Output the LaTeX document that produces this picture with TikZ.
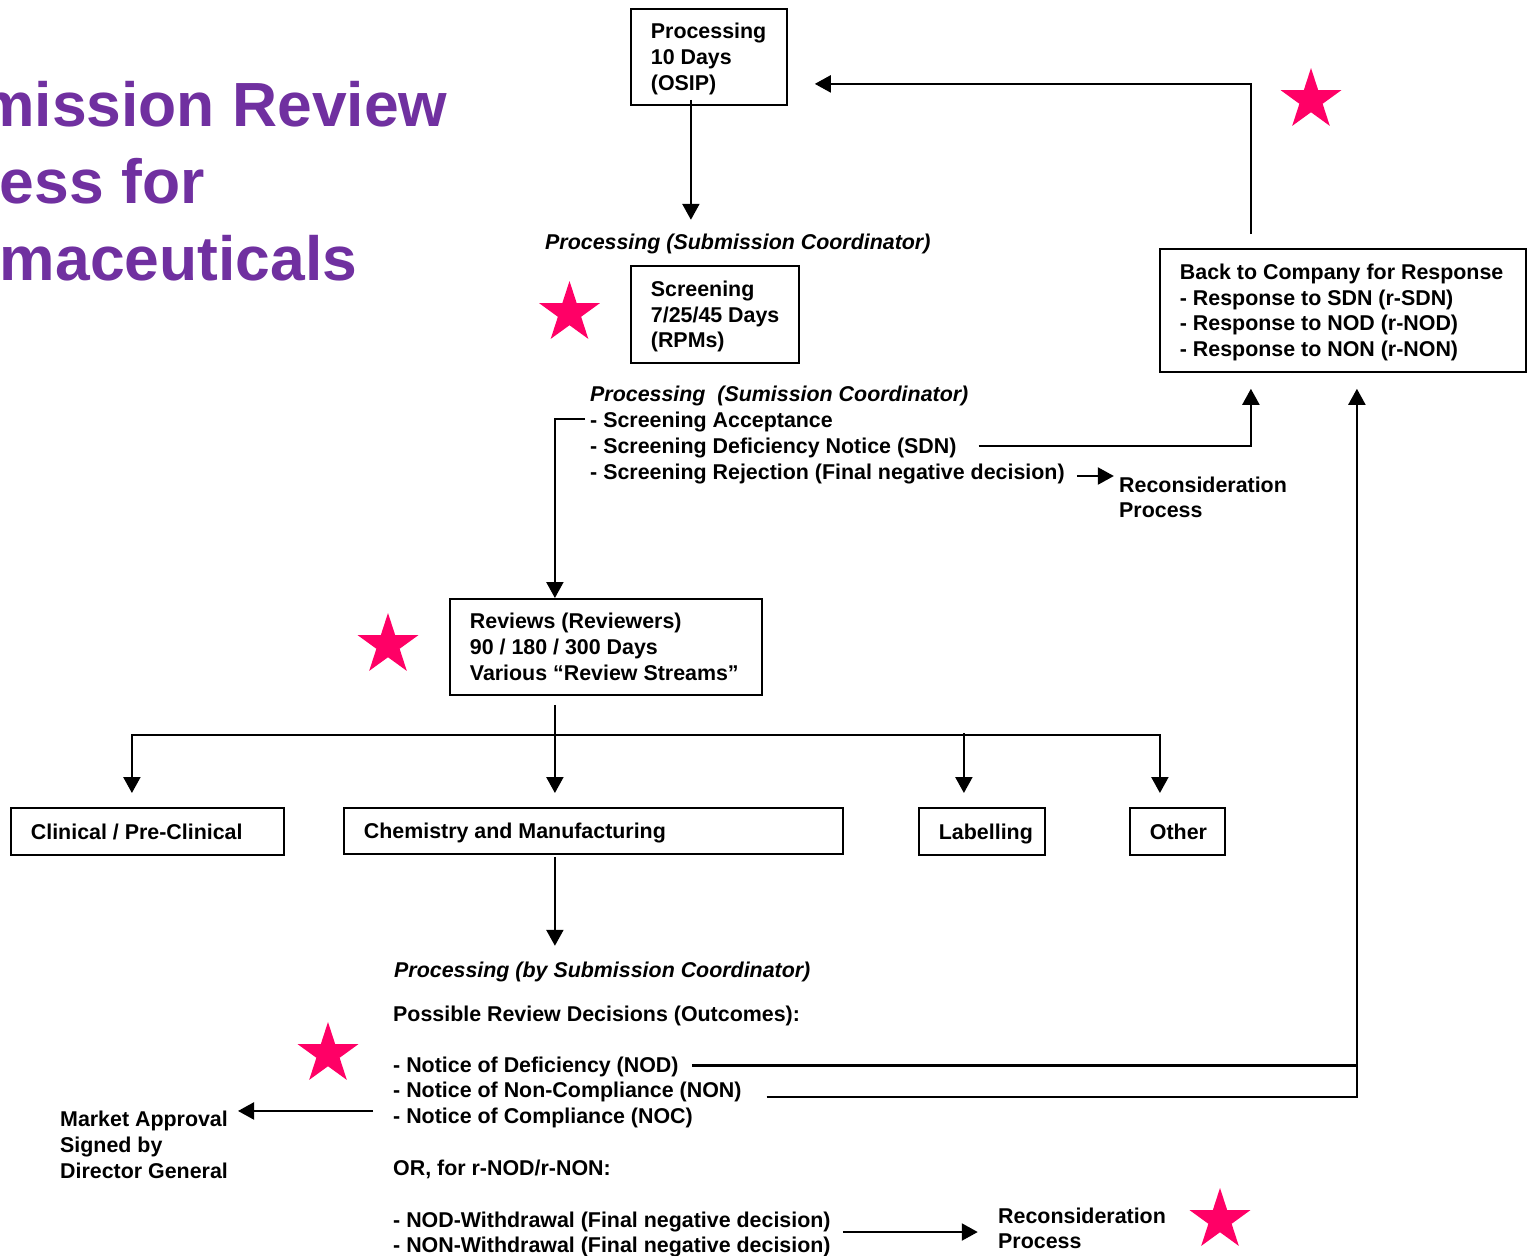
\documentclass[tikz,border=0pt]{standalone}
\usepackage{fontspec}
\setmainfont{Liberation Sans}
\usetikzlibrary{arrows.meta,shapes.geometric,calc}
\definecolor{titlepurple}{HTML}{7030A0}
\definecolor{starpink}{HTML}{FF0066}
\newcommand{\rows}[1]{\begin{tabular}[t]{@{}l@{}}#1\end{tabular}}
\newcommand{\boxtext}[2]{\raisebox{-2.5pt}[\height][\depth]{\makebox[#1][l]{\begin{tabular}{@{}l@{}}#2\end{tabular}}}}
\begin{document}
\begin{tikzpicture}[x=1pt,y=-1pt,
  every node/.style={font=\fontsize{21.4}{25.8}\selectfont\bfseries, inner sep=0pt},
  box/.style={draw, line width=1.8pt, anchor=north west, inner sep=0pt},
  txt/.style={anchor=base west},
  itx/.style={anchor=base west, font=\fontsize{21.4}{25.8}\selectfont\bfseries\itshape},
  arr/.style={line width=2.2pt, -{Triangle[length=16pt,width=17pt]}},
  ln/.style={line width=2.2pt},
  starmark/.style={star, star points=5, star point ratio=2.618, minimum size=64pt, inner sep=0pt, fill=starpink, draw=none},
  title/.style={anchor=base west, text=titlepurple, font=\fontsize{62.4}{77}\selectfont\bfseries}
]
\useasboundingbox (0,0) rectangle (1527,1256);
\fill[white] (0,0) rectangle (1527,1256);
\clip (0,0) rectangle (1527,1256);

% title (cut off at the left edge, as in the reference)
\node[title] (t1) at (-21,126.7) {mission Review};
\node[title] (t2) at (-0.3,203.3) {ess for};
\node[title] (t3) at (-0.3,280) {maceuticals};

% boxes
\node[box, minimum width=156pt, minimum height=96pt] (A) at (630,8) {\boxtext{116pt}{Processing\\10 Days\\(OSIP)}};
\node[itx] (lbl1) at (545,249) {Processing (Submission Coordinator)};
\node[box, minimum width=168pt, minimum height=97pt] (B) at (630,265) {\boxtext{128pt}{Screening\\7/25/45 Days\\(RPMs)}};
\node[itx] (lbl2) at (590,401) {Processing\ \ (Sumission Coordinator)};
\node[txt] (acc) at (590,427.5) {- Screening Acceptance};
\node[txt] (sdn) at (590,453) {- Screening Deficiency Notice (SDN)};
\node[txt] (rej) at (590,479) {- Screening Rejection (Final negative decision)};
\node[txt] (recon1) at (1119,492) {\rows{Reconsideration\\Process}};
\node[box, minimum width=366pt, minimum height=123pt] (C) at (1159,248) {\boxtext{326pt}{Back to Company for Response\\- Response to SDN (r-SDN)\\- Response to NOD (r-NOD)\\- Response to NON (r-NON)}};
\node[box, minimum width=312pt, minimum height=96pt] (D) at (449,598) {\boxtext{272pt}{Reviews (Reviewers)\\90 / 180 / 300 Days\\Various “Review Streams”}};
\node[box, minimum width=273pt, minimum height=47pt] (E) at (10,807) {\boxtext{233pt}{Clinical / Pre-Clinical}};
\node[box, minimum width=499pt, minimum height=46pt] (F) at (343,807) {\boxtext{459pt}{Chemistry and Manufacturing}};
\node[box, minimum width=126pt, minimum height=47pt] (G) at (918,807) {\boxtext{86pt}{Labelling}};
\node[box, minimum width=95pt, minimum height=47pt] (H) at (1129,807) {\boxtext{55pt}{Other}};

% lower block
\node[itx] (lbl3) at (394,977) {Processing (by Submission Coordinator)};
\node[txt] (poss) at (393,1021.5) {Possible Review Decisions (Outcomes):};
\node[txt] (nod) at (393,1072) {- Notice of Deficiency (NOD)};
\node[txt] (non) at (393,1097.5) {- Notice of Non-Compliance (NON)};
\node[txt] (noc) at (393,1123) {- Notice of Compliance (NOC)};
\node[txt] (orl) at (393,1175.5) {OR, for r-NOD/r-NON:};
\node[txt] (nodw) at (393,1227) {- NOD-Withdrawal (Final negative decision)};
\node[txt] (nonw) at (393,1252.5) {- NON-Withdrawal (Final negative decision)};
\node[txt] (market) at (60,1126.5) {\rows{Market Approval\\Signed by\\Director General}};
\node[txt] (recon2) at (998,1223) {\rows{Reconsideration\\Process}};

% stars
\node[starmark] (s1) at (1311,100) {};
\node[starmark] (s2) at (569.5,313) {};
\node[starmark] (s3) at (388,645) {};
\node[starmark] (s4) at (328,1054) {};
\node[starmark] (s5) at (1220,1220) {};

% connectors
\draw[arr] ($(A.south)+(-18,-6)$) -- ($(A.south)+(-18,114)$);
\draw[arr] ($(acc.west)+(-5,-3)$) -| ($(D.north)+(-51,0)$);
\draw[arr] ($(sdn.east)+(22,-1.5)$) -| ($(C.south)+(-92,16)$);
\draw[arr] ($(rej.east)+(12,2.5)$) -- ($(rej.east)+(49,2.5)$);
\draw[arr] ($(C.north)+(-92,-14)$) |- ($(A.east)+(27,27)$);

\coordinate (trunk) at ($(D.south)+(-51,39)$);
\draw[arr] ($(D.south)+(-51,9)$) -- ($(F.north)+(-38.5,-14)$);
\draw[arr] (trunk) -| ($(E.north)+(-15.5,-14)$);
\draw[arr] (trunk) -| ($(H.north)+(-17.5,-14)$);
\draw[arr] ($(G.north)+(-18,-74)$) -- ($(G.north)+(-18,-14)$);

\draw[arr] ($(F.south)+(-38.5,2)$) -- ($(F.south)+(-38.5,91)$);

\draw[ln] ($(nod.east)+(13,-1)$) -- ($(nod.east -| C.south)+(14,-1)$);
\draw[arr] ($(non.east)+(25,5)$) -| ($(C.south)+(14,16)$);
\draw[arr] ($(noc.west)+(-20,-6.5)$) -- ($(noc.west)+(-155,-6.5)$);
\draw[arr] ($(nodw.east)+(12,10.5)$) -- ($(nodw.east)+(147,10.5)$);
\end{tikzpicture}
\end{document}
